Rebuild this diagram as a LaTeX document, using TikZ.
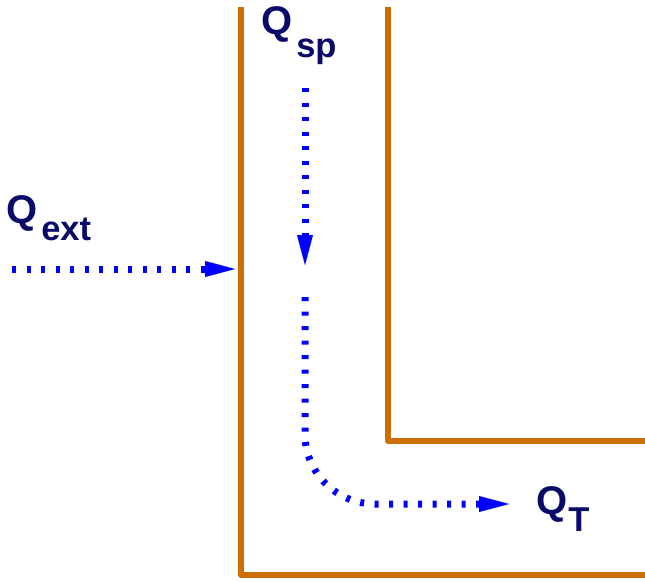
\documentclass[tikz,border=0pt]{standalone}
\usepackage{fontspec}
\setmainfont{Liberation Sans}
\usetikzlibrary{arrows.meta}
\definecolor{wall}{RGB}{204,110,0}
\definecolor{navy}{RGB}{10,10,105}
\definecolor{flow}{RGB}{0,0,255}
\tikzset{
  x=1pt,y=1pt,
  wallline/.style={draw=wall,line width=6pt,line join=round},
  flowline/.style={draw=flow,line width=7pt,dash pattern=on 4pt off 10.5pt},
  tipA/.style={-{Triangle[length=30pt,width=16pt,line width=0.1pt]}},
  lbl/.style={text=navy,font=\bfseries,inner sep=0pt,anchor=base west},
}
\newcommand{\bigQ}{{\fontsize{40}{40}\selectfont Q}}
\newcommand{\subtxt}[2]{\raisebox{-#1pt}{\fontsize{34.5}{35}\selectfont #2}}
\begin{document}
\begin{tikzpicture}
\useasboundingbox (0,0) rectangle (645,-581);
% walls
\draw[wallline] (241,-7) -- (241,-575) -- (645,-575);
\draw[wallline] (388,-7) -- (388,-441) -- (645,-441);
% labels
\node[lbl] (qsp) at (261,-34) {\bigQ\kern4pt\subtxt{23}{sp}};
\node[lbl] (qext) at (6,-223) {\bigQ\kern4pt\subtxt{17}{ext}};
\node[lbl] (qt) at (536,-514) {\bigQ\kern1pt\subtxt{17}{T}};
% flow coordinates
\coordinate (extA) at (12,-269);
\coordinate (extB) at (235,-269);
\coordinate (spA) at (305,-88);
\coordinate (spB) at (305,-265);
\coordinate (tA) at (305,-297);
\coordinate (tB) at (509,-504);
% flows
\draw[flowline,tipA] (extA) -- (extB);
\draw[flowline,tipA] (spA) -- (spB);
\draw[flowline,tipA,rounded corners=70pt] (tA) |- (tB);
\end{tikzpicture}
\end{document}
